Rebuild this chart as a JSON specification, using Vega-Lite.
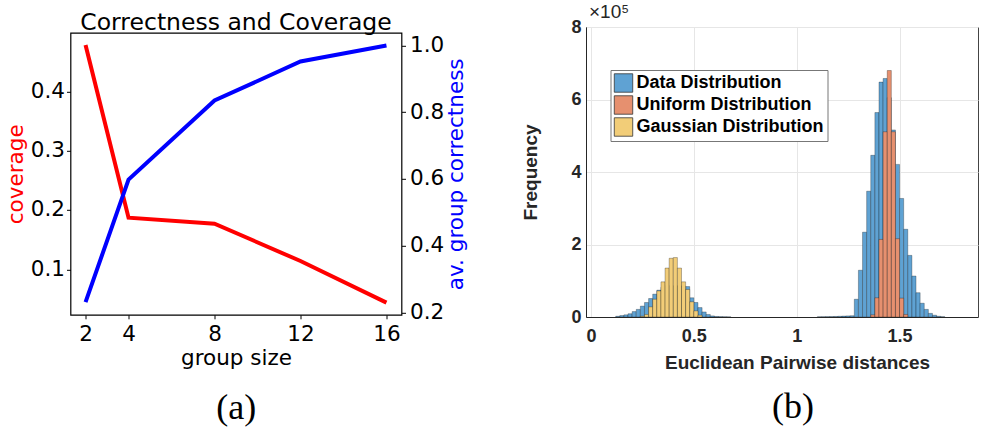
{
  "$schema": "https://vega.github.io/schema/vega-lite/v6.json",
  "background": "white",
  "padding": {"left": 4.5, "top": 2, "right": 0, "bottom": 0},
  "spacing": 52.5,
  "datasets": {
    "lines": [
      {"size": 2, "coverage": 0.478, "correctness": 0.231},
      {"size": 4, "coverage": 0.187, "correctness": 0.598},
      {"size": 8, "coverage": 0.177, "correctness": 0.835},
      {"size": 12, "coverage": 0.114, "correctness": 0.952},
      {"size": 16, "coverage": 0.044, "correctness": 1.0}
    ],
    "hist": [
      {"dist": "Data Distribution", "start": 0.12, "end": 0.14, "freq": 2000},
      {"dist": "Data Distribution", "start": 0.14, "end": 0.16, "freq": 4000},
      {"dist": "Data Distribution", "start": 0.16, "end": 0.18, "freq": 6000},
      {"dist": "Data Distribution", "start": 0.18, "end": 0.20, "freq": 9000},
      {"dist": "Data Distribution", "start": 0.20, "end": 0.22, "freq": 15000},
      {"dist": "Data Distribution", "start": 0.22, "end": 0.24, "freq": 21000},
      {"dist": "Data Distribution", "start": 0.24, "end": 0.26, "freq": 30000},
      {"dist": "Data Distribution", "start": 0.26, "end": 0.28, "freq": 40000},
      {"dist": "Data Distribution", "start": 0.28, "end": 0.30, "freq": 51000},
      {"dist": "Data Distribution", "start": 0.30, "end": 0.32, "freq": 63000},
      {"dist": "Data Distribution", "start": 0.32, "end": 0.34, "freq": 74000},
      {"dist": "Data Distribution", "start": 0.34, "end": 0.36, "freq": 82000},
      {"dist": "Data Distribution", "start": 0.36, "end": 0.38, "freq": 86000},
      {"dist": "Data Distribution", "start": 0.38, "end": 0.40, "freq": 86000},
      {"dist": "Data Distribution", "start": 0.40, "end": 0.42, "freq": 86000},
      {"dist": "Data Distribution", "start": 0.42, "end": 0.44, "freq": 86000},
      {"dist": "Data Distribution", "start": 0.44, "end": 0.46, "freq": 85000},
      {"dist": "Data Distribution", "start": 0.46, "end": 0.48, "freq": 84000},
      {"dist": "Data Distribution", "start": 0.48, "end": 0.50, "freq": 53000},
      {"dist": "Data Distribution", "start": 0.50, "end": 0.52, "freq": 40000},
      {"dist": "Data Distribution", "start": 0.52, "end": 0.54, "freq": 26000},
      {"dist": "Data Distribution", "start": 0.54, "end": 0.56, "freq": 14000},
      {"dist": "Data Distribution", "start": 0.56, "end": 0.58, "freq": 7000},
      {"dist": "Data Distribution", "start": 0.58, "end": 0.60, "freq": 3000},
      {"dist": "Data Distribution", "start": 0.60, "end": 0.62, "freq": 1500},
      {"dist": "Data Distribution", "start": 0.62, "end": 0.64, "freq": 1000},
      {"dist": "Data Distribution", "start": 0.64, "end": 0.66, "freq": 700},
      {"dist": "Data Distribution", "start": 0.66, "end": 0.68, "freq": 400},
      {"dist": "Data Distribution", "start": 1.10, "end": 1.12, "freq": 600},
      {"dist": "Data Distribution", "start": 1.12, "end": 1.14, "freq": 800},
      {"dist": "Data Distribution", "start": 1.14, "end": 1.16, "freq": 1000},
      {"dist": "Data Distribution", "start": 1.16, "end": 1.18, "freq": 1200},
      {"dist": "Data Distribution", "start": 1.18, "end": 1.20, "freq": 1500},
      {"dist": "Data Distribution", "start": 1.20, "end": 1.22, "freq": 2000},
      {"dist": "Data Distribution", "start": 1.22, "end": 1.24, "freq": 2500},
      {"dist": "Data Distribution", "start": 1.24, "end": 1.26, "freq": 3000},
      {"dist": "Data Distribution", "start": 1.26, "end": 1.28, "freq": 3500},
      {"dist": "Data Distribution", "start": 1.28, "end": 1.30, "freq": 49000},
      {"dist": "Data Distribution", "start": 1.30, "end": 1.32, "freq": 129000},
      {"dist": "Data Distribution", "start": 1.32, "end": 1.34, "freq": 234000},
      {"dist": "Data Distribution", "start": 1.34, "end": 1.36, "freq": 347000},
      {"dist": "Data Distribution", "start": 1.36, "end": 1.38, "freq": 446000},
      {"dist": "Data Distribution", "start": 1.38, "end": 1.40, "freq": 564000},
      {"dist": "Data Distribution", "start": 1.40, "end": 1.42, "freq": 648000},
      {"dist": "Data Distribution", "start": 1.42, "end": 1.44, "freq": 658000},
      {"dist": "Data Distribution", "start": 1.44, "end": 1.46, "freq": 605000},
      {"dist": "Data Distribution", "start": 1.46, "end": 1.48, "freq": 516000},
      {"dist": "Data Distribution", "start": 1.48, "end": 1.50, "freq": 421000},
      {"dist": "Data Distribution", "start": 1.50, "end": 1.52, "freq": 327000},
      {"dist": "Data Distribution", "start": 1.52, "end": 1.54, "freq": 242000},
      {"dist": "Data Distribution", "start": 1.54, "end": 1.56, "freq": 170000},
      {"dist": "Data Distribution", "start": 1.56, "end": 1.58, "freq": 113000},
      {"dist": "Data Distribution", "start": 1.58, "end": 1.60, "freq": 67000},
      {"dist": "Data Distribution", "start": 1.60, "end": 1.62, "freq": 38000},
      {"dist": "Data Distribution", "start": 1.62, "end": 1.64, "freq": 21000},
      {"dist": "Data Distribution", "start": 1.64, "end": 1.66, "freq": 10000},
      {"dist": "Data Distribution", "start": 1.66, "end": 1.68, "freq": 5000},
      {"dist": "Data Distribution", "start": 1.68, "end": 1.70, "freq": 2000},
      {"dist": "Data Distribution", "start": 1.70, "end": 1.72, "freq": 800},
      {"dist": "Uniform Distribution", "start": 1.36, "end": 1.38, "freq": 6000},
      {"dist": "Uniform Distribution", "start": 1.38, "end": 1.40, "freq": 53000},
      {"dist": "Uniform Distribution", "start": 1.40, "end": 1.42, "freq": 214000},
      {"dist": "Uniform Distribution", "start": 1.42, "end": 1.44, "freq": 511000},
      {"dist": "Uniform Distribution", "start": 1.44, "end": 1.46, "freq": 680000},
      {"dist": "Uniform Distribution", "start": 1.46, "end": 1.48, "freq": 511000},
      {"dist": "Uniform Distribution", "start": 1.48, "end": 1.50, "freq": 216000},
      {"dist": "Uniform Distribution", "start": 1.50, "end": 1.52, "freq": 52000},
      {"dist": "Uniform Distribution", "start": 1.52, "end": 1.54, "freq": 7000},
      {"dist": "Gaussian Distribution", "start": 0.24, "end": 0.26, "freq": 2000},
      {"dist": "Gaussian Distribution", "start": 0.26, "end": 0.28, "freq": 7000},
      {"dist": "Gaussian Distribution", "start": 0.28, "end": 0.30, "freq": 28000},
      {"dist": "Gaussian Distribution", "start": 0.30, "end": 0.32, "freq": 49000},
      {"dist": "Gaussian Distribution", "start": 0.32, "end": 0.34, "freq": 72000},
      {"dist": "Gaussian Distribution", "start": 0.34, "end": 0.36, "freq": 97000},
      {"dist": "Gaussian Distribution", "start": 0.36, "end": 0.38, "freq": 135000},
      {"dist": "Gaussian Distribution", "start": 0.38, "end": 0.40, "freq": 162000},
      {"dist": "Gaussian Distribution", "start": 0.40, "end": 0.42, "freq": 164000},
      {"dist": "Gaussian Distribution", "start": 0.42, "end": 0.44, "freq": 135000},
      {"dist": "Gaussian Distribution", "start": 0.44, "end": 0.46, "freq": 97000},
      {"dist": "Gaussian Distribution", "start": 0.46, "end": 0.48, "freq": 76000},
      {"dist": "Gaussian Distribution", "start": 0.48, "end": 0.50, "freq": 42000},
      {"dist": "Gaussian Distribution", "start": 0.50, "end": 0.52, "freq": 17000},
      {"dist": "Gaussian Distribution", "start": 0.52, "end": 0.54, "freq": 5000}
    ]
  },
  "hconcat": [
    {
      "title": {"text": "(a)", "orient": "bottom", "anchor": "middle", "font": "Liberation Serif", "fontSize": 36, "fontWeight": "normal", "color": "black", "offset": 22},
      "spacing": -18.2,
      "vconcat": [
        {
          "data": {"values": []},
          "mark": "point",
          "width": 331,
          "height": 1,
          "view": {"stroke": null}
        },
        {
          "title": {"text": "Correctness and Coverage", "font": "DejaVu Sans", "fontSize": 23.5, "fontWeight": "normal", "color": "black", "offset": -2},
          "width": 331,
          "height": 282,
          "data": {"name": "lines"},
          "view": {"stroke": "black", "strokeWidth": 1.2},
          "encoding": {
            "x": {
              "field": "size", "type": "quantitative",
              "scale": {"domain": [1.3, 16.7], "nice": false, "zero": false},
              "axis": {"values": [2, 4, 8, 12, 16], "title": "group size", "grid": false, "domain": false,
                       "tickSize": 4, "tickColor": "black", "labelPadding": 5, "labelFont": "DejaVu Sans", "labelFontSize": 21.5,
                       "labelColor": "black", "titleFont": "DejaVu Sans", "titleFontSize": 21.5, "titleFontWeight": "normal",
                       "titleColor": "black", "titlePadding": 2}
            }
          },
          "layer": [
            {
              "mark": {"type": "line", "color": "#ff0000", "strokeWidth": 4},
              "encoding": {
                "y": {
                  "field": "coverage", "type": "quantitative",
                  "scale": {"domain": [0.0234, 0.4986], "nice": false, "zero": false},
                  "axis": {"orient": "left", "values": [0.1, 0.2, 0.3, 0.4], "format": ".1f", "title": "coverage", "grid": false,
                           "domain": false, "tickSize": 4, "tickColor": "black", "labelPadding": 2, "labelFont": "DejaVu Sans",
                           "labelFontSize": 21.5, "labelColor": "black", "titleFont": "DejaVu Sans", "titleFontSize": 21.5,
                           "titleFontWeight": "normal", "titleColor": "#ff0000", "titlePadding": 3}
                }
              }
            },
            {
              "mark": {"type": "line", "color": "#0000ff", "strokeWidth": 4},
              "encoding": {
                "y": {
                  "field": "correctness", "type": "quantitative",
                  "scale": {"domain": [0.193, 1.038], "nice": false, "zero": false},
                  "axis": {"orient": "right", "values": [0.2, 0.4, 0.6, 0.8, 1.0], "format": ".1f", "title": "av. group correctness",
                           "titleAngle": 270, "titleBaseline": "top", "grid": false, "domain": false, "tickSize": 4, "tickColor": "black", "labelPadding": 4,
                           "labelFont": "DejaVu Sans", "labelFontSize": 21.5, "labelColor": "black", "titleFont": "DejaVu Sans",
                           "titleFontSize": 21.5, "titleFontWeight": "normal", "titleColor": "#0000ff", "titlePadding": 2}
                }
              }
            }
          ],
          "resolve": {"scale": {"y": "independent"}}
        }
      ]
    },
    {
      "title": {"text": "(b)", "orient": "bottom", "anchor": "middle", "font": "Liberation Serif", "fontSize": 36, "fontWeight": "normal", "color": "black", "offset": 17, "dx": 43},
      "vconcat": [
        {
          "title": {"text": "×10⁵", "anchor": "start", "frame": "group", "font": "Liberation Sans", "fontSize": 19, "fontWeight": "normal", "color": "#262626", "offset": -4.3, "dx": 3},
          "width": 392,
          "height": 290,
          "data": {"name": "hist"},
          "view": {"stroke": "#444444", "strokeWidth": 1},
          "mark": {"type": "bar", "orient": "vertical", "stroke": "black", "strokeWidth": 0.5, "strokeOpacity": 0.55, "clip": true},
          "encoding": {
            "x": {
              "field": "start", "type": "quantitative",
              "scale": {"domain": [0, 1.857], "nice": false, "zero": false},
              "axis": {"values": [0, 0.5, 1, 1.5], "format": "~g", "title": "Euclidean Pairwise distances", "titleX": 211,
                       "titleAlign": "center", "grid": true, "gridColor": "#e6e6e6", "domainColor": "#262626", "ticks": false,
                       "tickSize": 0, "labelPadding": 10, "labelFont": "Liberation Sans", "labelFontWeight": "bold",
                       "labelFontSize": 18, "labelColor": "#262626", "titleFont": "Liberation Sans", "titleFontWeight": "bold",
                       "titleFontSize": 19, "titleColor": "#262626", "titlePadding": 8}
            },
            "x2": {"field": "end"},
            "y": {
              "field": "freq", "type": "quantitative", "stack": null,
              "scale": {"domain": [0, 800000], "nice": false},
              "axis": {"values": [0, 200000, 400000, 600000, 800000], "labelExpr": "datum.value / 100000", "title": "Frequency",
                       "grid": true, "gridColor": "#e6e6e6", "domainColor": "#262626", "ticks": false, "tickSize": 0,
                       "labelPadding": 5, "labelFont": "Liberation Sans", "labelFontWeight": "bold", "labelFontSize": 18,
                       "labelColor": "#262626", "titleFont": "Liberation Sans", "titleFontWeight": "bold", "titleFontSize": 19,
                       "titleColor": "#262626", "titlePadding": 30}
            },
            "y2": {"datum": 0},
            "color": {
              "field": "dist", "type": "nominal",
              "scale": {"domain": ["Data Distribution", "Uniform Distribution", "Gaussian Distribution"],
                        "range": ["#5fa2d3", "#e6906f", "#f2cd78"]},
              "legend": {"orient": "none", "legendX": 540, "legendY": 43, "title": null, "strokeColor": "#777777",
                         "fillColor": "white", "padding": 3, "symbolType": "square", "symbolSize": 340,
                         "symbolStrokeColor": "#333333", "symbolStrokeWidth": 0.8, "symbolOpacity": 1,
                         "labelFont": "Liberation Sans", "labelFontWeight": "bold", "labelFontSize": 18,
                         "labelColor": "black", "labelOffset": 3, "rowPadding": 0, "labelLimit": 400}
            }
          }
        }
      ]
    }
  ]
}
